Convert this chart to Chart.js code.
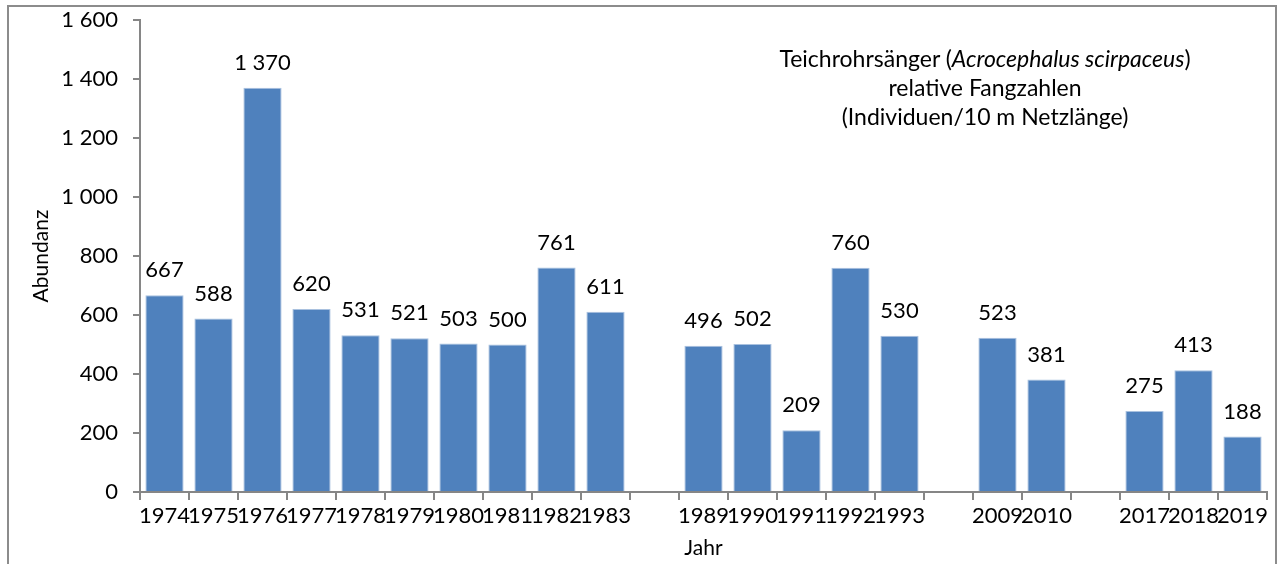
<!DOCTYPE html>
<html lang="de">
<head>
<meta charset="UTF-8">
<title>Teichrohrsänger relative Fangzahlen</title>
<script src="https://cdn.jsdelivr.net/npm/chart.js"></script>
<style>
    body { margin: 0; background: #fff; overflow: hidden; }
    #wrap { position: relative; width: 1282px; height: 564px; }
    #frame {
        position: absolute; left: 7px; top: 5px; width: 1270px; height: 600px;
        border: 2px solid #8c8c8c; box-sizing: border-box; pointer-events: none;
    }
    #note {
        position: absolute; left: 735px; top: 44px; width: 500px;
        text-align: center; font-family: Lato, sans-serif; font-size: 23px;
        line-height: 29px; color: #000;
    }
</style>
</head>
<body>
<div id="wrap">
    <canvas id="chart" width="1282" height="564"></canvas>
    <div id="frame"></div>
    <div id="note">Teichrohrsänger (<i>Acrocephalus scirpaceus</i>)<br>relative Fangzahlen<br>(Individuen/10 m Netzlänge)</div>
</div>
<script>
    // empty strings / nulls are the gaps between the survey periods
    const years = ['1974', '1975', '1976', '1977', '1978', '1979', '1980', '1981', '1982', '1983', '',
        '1989', '1990', '1991', '1992', '1993', '', '2009', '2010', '', '2017', '2018', '2019'];
    const abundance = [667, 588, 1370, 620, 531, 521, 503, 500, 761, 611, null,
        496, 502, 209, 760, 530, null, 523, 381, null, 275, 413, 188];
    const yTicks = [0, 200, 400, 600, 800, 1000, 1200, 1400, 1600];

    const fontFamily = 'Lato, sans-serif';
    const axisGray = '#868686';

    function spaced(v) {
        return String(v).replace(/\B(?=(\d{3})+(?!\d))/g, ' ');
    }

    // value labels above the bars
    const valueLabels = {
        id: 'valueLabels',
        afterDatasetsDraw(chart) {
            const ctx = chart.ctx;
            const meta = chart.getDatasetMeta(0);
            ctx.save();
            ctx.font = '22px ' + fontFamily;
            ctx.fillStyle = '#000';
            ctx.textAlign = 'center';
            ctx.textBaseline = 'middle';
            meta.data.forEach((bar, i) => {
                const v = abundance[i];
                if (v === null) return;
                ctx.fillText(spaced(v), bar.x, bar.y - 25);
            });
            ctx.restore();
        }
    };

    const ctx = document.getElementById('chart').getContext('2d');
    const chart = new Chart(ctx, {
        type: 'bar',
        data: {
            labels: years,
            datasets: [{
                label: 'Abundanz',
                data: abundance,
                backgroundColor: '#4f81bd',
                borderColor: '#a9c1df',
                borderWidth: 1,
                barPercentage: 0.78,
                categoryPercentage: 1
            }]
        },
        options: {
            responsive: false,
            animation: false,
            layout: { padding: { left: 0, right: 15, top: 20, bottom: 0 } },
            plugins: {
                legend: { display: false },
                tooltip: { enabled: false }
            },
            scales: {
                x: {
                    afterFit(scale) {
                        scale.height = 72;
                        scale.paddingLeft = 0;
                        scale.paddingRight = 0;
                    },
                    grid: {
                        offset: true,
                        drawOnChartArea: false,
                        drawTicks: true,
                        tickLength: 8,
                        color: axisGray,
                        lineWidth: 2
                    },
                    border: { display: true, color: axisGray, width: 2 },
                    ticks: {
                        autoSkip: false,
                        maxRotation: 0,
                        minRotation: 0,
                        padding: 3,
                        color: '#000',
                        font: { family: fontFamily, size: 22 }
                    },
                    title: {
                        display: true,
                        text: 'Jahr',
                        color: '#000',
                        padding: { top: 0, bottom: 3 },
                        font: { family: fontFamily, size: 21 }
                    }
                },
                y: {
                    min: 0,
                    max: 1600,
                    afterFit(scale) {
                        scale.width = 140;
                        scale.paddingTop = 0;
                        scale.paddingBottom = 0;
                    },
                    afterBuildTicks(scale) {
                        scale.ticks = yTicks.map(v => ({ value: v }));
                    },
                    grid: {
                        drawOnChartArea: false,
                        drawTicks: true,
                        tickLength: 7,
                        color: axisGray,
                        lineWidth: 2
                    },
                    border: { display: true, color: axisGray, width: 2 },
                    ticks: {
                        padding: 15,
                        color: '#000',
                        font: { family: fontFamily, size: 22 },
                        callback: v => spaced(v)
                    },
                    title: {
                        display: true,
                        text: 'Abundanz',
                        color: '#000',
                        padding: { top: 29, bottom: 0 },
                        font: { family: fontFamily, size: 21 }
                    }
                }
            }
        },
        plugins: [valueLabels]
    });
</script>
</body>
</html>
